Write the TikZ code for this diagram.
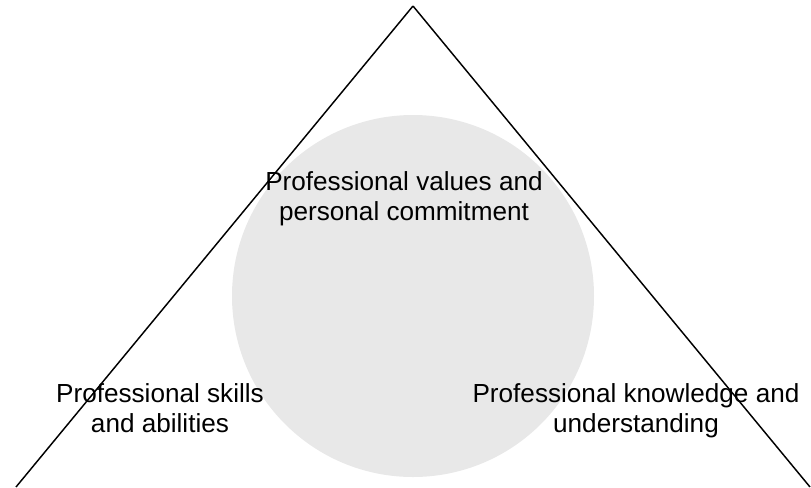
\documentclass[tikz,border=0pt]{standalone}
\usepackage{fontspec}
\setmainfont{Liberation Sans}
\usepackage{xcolor}
\usepackage{tikz}
\usetikzlibrary{positioning}
\definecolor{circlegray}{HTML}{E8E8E8}

\begin{document}
\begin{tikzpicture}[x=0.75pt,y=-0.75pt,thick,
    label node/.style={align=center,inner sep=0pt,font=\fontsize{19.6}{22.5}\selectfont},
    side/.style={line width=1.1pt,black}]
                \useasboundingbox (0,0) rectangle (811,487);
                \clip (0,0) rectangle (811,487);
                \node[circle,fill=circlegray,minimum size=362*0.75pt,inner sep=0pt] (core) at (413,296) {};

                \coordinate (apex) at (413,6);
                \coordinate (left) at (16,487);
                \coordinate (right) at (810,487);

                \node[label node] (values) at (404,199) {Professional values and\\personal commitment};
                \node[label node] (skills) at (160,408) {Professional skills\\and abilities};
                \node[label node] (knowledge) at (636,411) {Professional knowledge and\\understanding};

                \path[side] (apex) edge[] node {} (left);
                \path[side] (apex) edge[] node {} (right);
            \end{tikzpicture}
\end{document}
